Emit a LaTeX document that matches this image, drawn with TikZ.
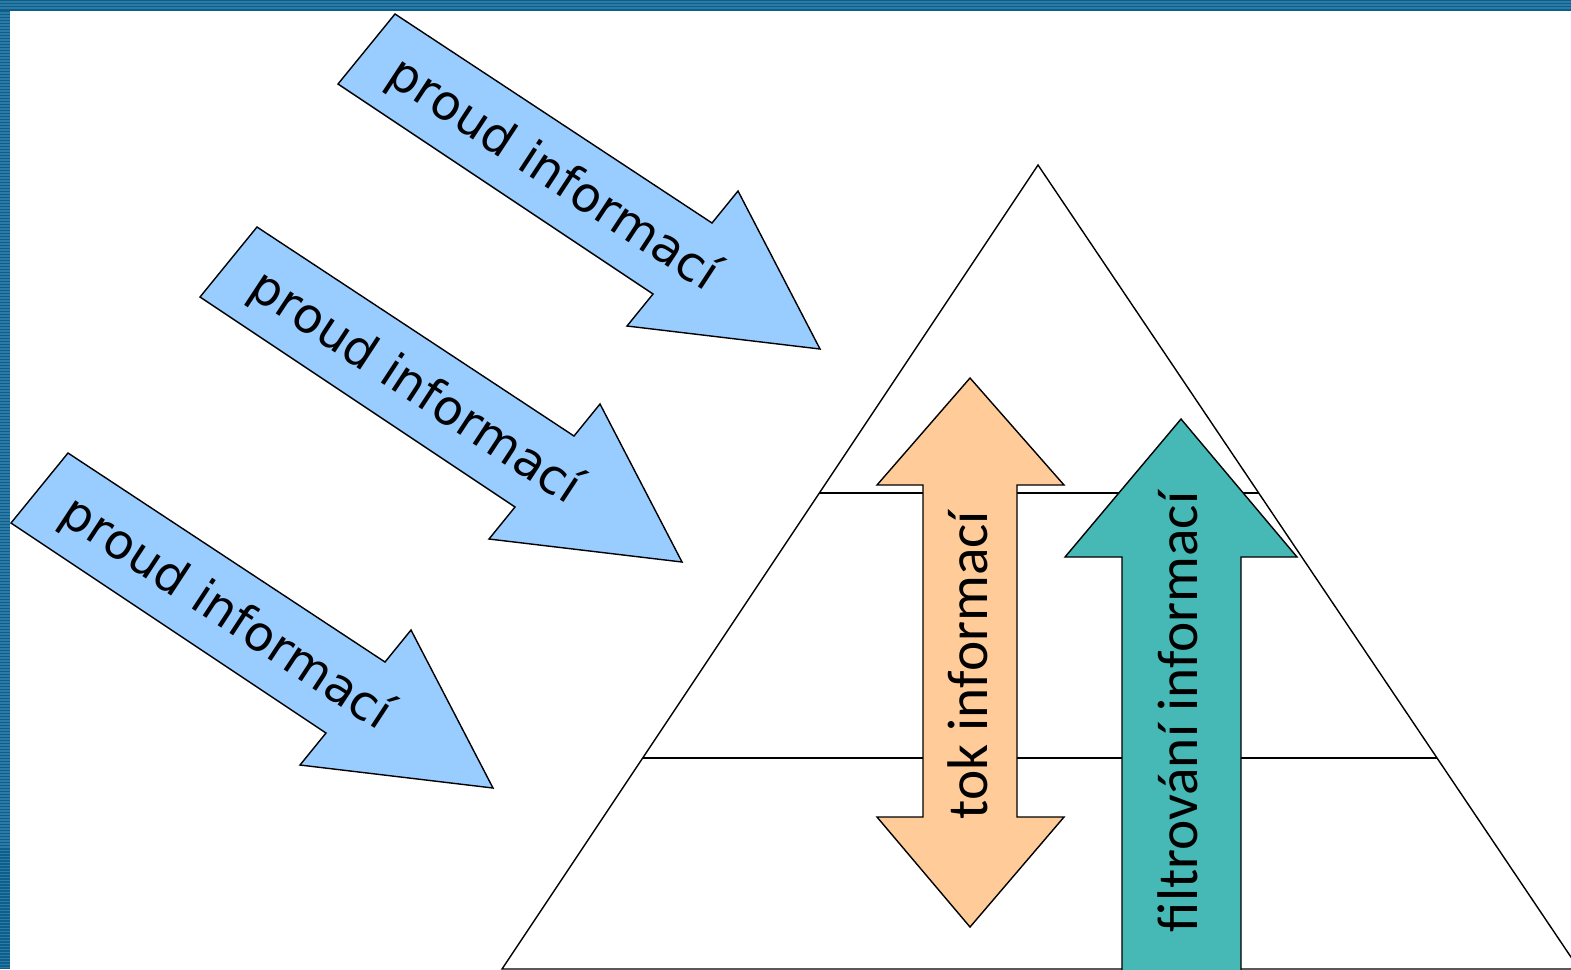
\documentclass[tikz,border=0pt]{standalone}
\usepackage{fontspec}
\newfontfamily\flowfont{DejaVu Sans}
\newfontfamily\labelfont{Carlito}
\definecolor{flowblue}{HTML}{99CCFF}
\definecolor{tokorange}{HTML}{FFCC99}
\definecolor{filtrteal}{HTML}{46B8B5}
\definecolor{framedark}{HTML}{0D5E88}
\definecolor{framelight}{HTML}{2B7BA6}
\begin{document}
\begin{tikzpicture}[x=0.01cm, y=-0.01cm,
    outline/.style = {draw=black, line width=0.4pt, line join=miter},
    flowarrow/.style = {outline, fill=flowblue},
    flowtext/.style = {font=\flowfont\fontsize{13.8}{16}\selectfont, rotate=-33.3, inner sep=0pt},
    vtext/.style = {font=\labelfont\fontsize{16.3}{19}\selectfont, rotate=90, inner sep=0pt}]
    \useasboundingbox (0,0) rectangle (1571,969);
    \clip (0,0) rectangle (1571,969);
    \fill[white] (0,0) rectangle (1571,969);
    % pyramid with its levels
    \coordinate (apex) at (1038,165);
    \coordinate (baseL) at (502,969);
    \coordinate (baseR) at (1579,969);
    \draw[outline] (apex) -- (baseR) -- (baseL) -- cycle;
    \coordinate (l1L) at (819,493);
    \coordinate (l1R) at (1259,493);
    \coordinate (l2L) at (643,758);
    \coordinate (l2R) at (1437,758);
    \draw[outline] (l1L) -- (l1R);
    \draw[outline] (l2L) -- (l2R);
    % tok informaci (both ways)
    \draw[outline, fill=tokorange] (970,378) -- (1064,485) -- (1017,485) -- (1017,817)
        -- (1064,817) -- (970,927) -- (877,817) -- (923,817) -- (923,485) -- (877,485) -- cycle;
    \node[vtext] (tok) at (968,665) {tok informací};
    % filtrovani informaci (up)
    \draw[outline, fill=filtrteal] (1181,419) -- (1297,557) -- (1241,557) -- (1241,990)
        -- (1122,990) -- (1122,557) -- (1065,557) -- cycle;
    \node[vtext] (filtr) at (1178,712) {filtrování informací};
    % incoming flows
    \foreach \sx/\sy/\n in {395/14/1, 257/227/2, 68/453/3}{
      \begin{scope}[shift={(\sx,\sy)}]
        \draw[flowarrow] (0,0) -- (317,209) -- (343,177) -- (425,335) -- (232,312) -- (258,280) -- (-57,70) -- cycle;
        \node[flowtext] (proud\n) at (158,161) {proud informací};
      \end{scope}
    }
    % frame
    \fill[framedark] (0,0) rectangle (1571,11);
    \fill[framedark] (0,0) rectangle (10,969);
    \foreach \y in {2,5,8}
      \draw[framelight, line width=0.3pt] (0,\y) -- (1571,\y);
    \foreach \y in {13,16,...,969}
      \draw[framelight, line width=0.3pt] (0,\y) -- (10,\y);
\end{tikzpicture}
\end{document}
